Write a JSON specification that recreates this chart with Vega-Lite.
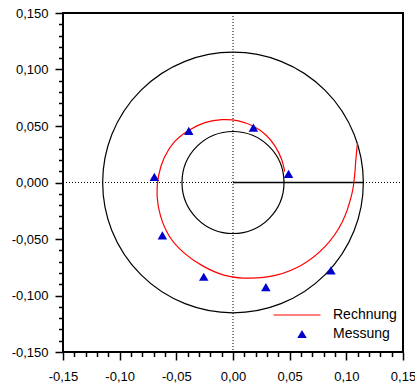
{
  "$schema": "https://vega.github.io/schema/vega-lite/v6.json",
  "width": 340,
  "height": 339,
  "autosize": {"type": "none"},
  "padding": {"left": 63, "top": 13, "right": 12, "bottom": 33},
  "config": {
    "locale": {"number": {"decimal": ",", "thousands": ".", "grouping": [3], "currency": ["", " €"], "minus": "-"}},
    "font": "Liberation Sans",
    "view": {"stroke": "black", "strokeWidth": 2},
    "axis": {"grid": false, "domain": false, "title": null, "tickColor": "black", "labelColor": "black", "labelFont": "Liberation Sans", "labelFontSize": 13, "labelFlush": false, "labelOverlap": false, "tickWidth": 1.5}
  },
  "datasets": {
    "circles": [{"r": 0.115}, {"r": 0.045}],
    "curve": [
      {"i": 0, "x": 0.0456, "y": 0.0097},
      {"i": 1, "x": 0.0430, "y": 0.0201},
      {"i": 2, "x": 0.0375, "y": 0.0315},
      {"i": 3, "x": 0.0293, "y": 0.0418},
      {"i": 4, "x": 0.0181, "y": 0.0498},
      {"i": 5, "x": 0.0048, "y": 0.0546},
      {"i": 6, "x": -0.0098, "y": 0.0556},
      {"i": 7, "x": -0.0247, "y": 0.0530},
      {"i": 8, "x": -0.0389, "y": 0.0463},
      {"i": 9, "x": -0.0516, "y": 0.0361},
      {"i": 10, "x": -0.0606, "y": 0.0221},
      {"i": 11, "x": -0.0657, "y": 0.0058},
      {"i": 12, "x": -0.0670, "y": -0.0118},
      {"i": 13, "x": -0.0639, "y": -0.0298},
      {"i": 14, "x": -0.0563, "y": -0.0473},
      {"i": 15, "x": -0.0435, "y": -0.0621},
      {"i": 16, "x": -0.0268, "y": -0.0738},
      {"i": 17, "x": -0.0072, "y": -0.0822},
      {"i": 18, "x": 0.0150, "y": -0.0847},
      {"i": 19, "x": 0.0383, "y": -0.0820},
      {"i": 20, "x": 0.0611, "y": -0.0728},
      {"i": 21, "x": 0.0811, "y": -0.0568},
      {"i": 22, "x": 0.0963, "y": -0.0351},
      {"i": 23, "x": 0.1051, "y": -0.0092},
      {"i": 24, "x": 0.1076, "y": 0.0094},
      {"i": 25, "x": 0.1083, "y": 0.0191},
      {"i": 26, "x": 0.1099, "y": 0.0357}
    ],
    "meas": [
      {"x": -0.039, "y": 0.0456, "series": "Messung"},
      {"x": 0.018, "y": 0.0486, "series": "Messung"},
      {"x": 0.049, "y": 0.0077, "series": "Messung"},
      {"x": -0.0694, "y": 0.005, "series": "Messung"},
      {"x": -0.0623, "y": -0.0467, "series": "Messung"},
      {"x": -0.0258, "y": -0.0834, "series": "Messung"},
      {"x": 0.029, "y": -0.0926, "series": "Messung"},
      {"x": 0.0864, "y": -0.0777, "series": "Messung"}
    ]
  },
  "resolve": {"axis": {"x": "independent", "y": "independent"}},
  "layer": [
    {
      "data": {"name": "circles"},
      "transform": [{"calculate": "0", "as": "c"}],
      "mark": {"type": "point", "filled": false, "stroke": "black", "strokeWidth": 1.2, "opacity": 1, "shape": "circle"},
      "encoding": {
        "x": {"field": "c", "type": "quantitative", "scale": {"domain": [-0.15, 0.15], "nice": false, "zero": false},
          "axis": {"orient": "bottom", "values": [-0.15, -0.1, -0.05, 0, 0.05, 0.1, 0.15], "format": ".2f", "tickSize": 8, "labelPadding": 10}},
        "y": {"field": "c", "type": "quantitative", "scale": {"domain": [-0.15, 0.15], "nice": false, "zero": false},
          "axis": {"orient": "left", "values": [-0.15, -0.1, -0.05, 0, 0.05, 0.1, 0.15], "format": ".3f", "tickSize": 8, "labelPadding": 7}},
        "size": {"field": "r", "type": "quantitative", "scale": {"type": "pow", "exponent": 2, "domain": [0, 0.15], "range": [0, 115600]}, "legend": null}
      }
    },
    {
      "data": {"values": [{"v": 0}]},
      "mark": {"type": "rule", "color": "black", "strokeWidth": 1, "strokeDash": [1, 2]},
      "encoding": {"x": {"field": "v", "type": "quantitative", "axis": null}}
    },
    {
      "data": {"values": [{"v": 0}]},
      "mark": {"type": "rule", "color": "black", "strokeWidth": 1, "strokeDash": [1, 2]},
      "encoding": {"y": {"field": "v", "type": "quantitative", "axis": null}}
    },
    {
      "data": {"values": [{"x": 0, "x2": 0.115, "y": 0}]},
      "mark": {"type": "rule", "color": "black", "strokeWidth": 1.5},
      "encoding": {
        "x": {"field": "x", "type": "quantitative", "axis": null},
        "x2": {"field": "x2"},
        "y": {"field": "y", "type": "quantitative", "axis": null}
      }
    },
    {
      "data": {"name": "curve"},
      "mark": {"type": "line", "color": "#ff0000", "strokeWidth": 1.2, "interpolate": "catmull-rom"},
      "encoding": {
        "x": {"field": "x", "type": "quantitative", "axis": null},
        "y": {"field": "y", "type": "quantitative", "axis": null},
        "order": {"field": "i", "type": "quantitative"}
      }
    },
    {
      "data": {"name": "meas"},
      "mark": {"type": "point", "filled": true, "size": 90, "opacity": 1},
      "encoding": {
        "x": {"field": "x", "type": "quantitative",
          "axis": {"orient": "bottom", "values": [-0.14, -0.13, -0.12, -0.11, -0.09, -0.08, -0.07, -0.06, -0.04, -0.03, -0.02, -0.01, 0.01, 0.02, 0.03, 0.04, 0.06, 0.07, 0.08, 0.09, 0.11, 0.12, 0.13, 0.14], "labels": false, "tickSize": 4.5}},
        "y": {"field": "y", "type": "quantitative",
          "axis": {"orient": "left", "values": [-0.14, -0.13, -0.12, -0.11, -0.09, -0.08, -0.07, -0.06, -0.04, -0.03, -0.02, -0.01, 0.01, 0.02, 0.03, 0.04, 0.06, 0.07, 0.08, 0.09, 0.11, 0.12, 0.13, 0.14], "labels": false, "tickSize": 4.5}},
        "color": {"field": "series", "type": "nominal", "scale": {"domain": ["Rechnung", "Messung"], "range": ["#ff0000", "#0000cc"]},
          "legend": {"title": null, "orient": "none", "legendX": 232, "legendY": 295, "padding": 0, "labelFontSize": 14, "labelFont": "Liberation Sans", "labelColor": "black", "labelOffset": 24, "rowPadding": 5, "symbolSize": 90, "symbolOpacity": 1,
            "encode": {"symbols": {"update": {"stroke": {"scale": "color", "field": "value"}, "strokeWidth": {"signal": "datum.value === 'Rechnung' ? 1.2 : 0"}}}}}},
        "shape": {"field": "series", "type": "nominal", "scale": {"domain": ["Rechnung", "Messung"], "range": ["M-6,0H3.9", "triangle-up"]},
          "legend": {"title": null, "orient": "none", "legendX": 232, "legendY": 295, "padding": 0, "labelFontSize": 14, "labelOffset": 24, "rowPadding": 5, "symbolSize": 90}}
      }
    }
  ]
}
